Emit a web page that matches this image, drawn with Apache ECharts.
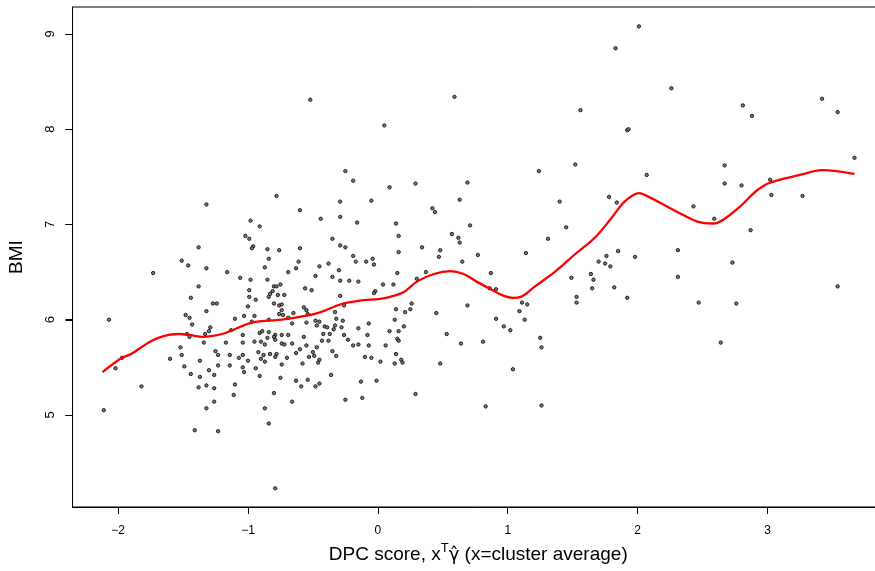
<!DOCTYPE html>
<html>
<head>
<meta charset="utf-8">
<title>BMI vs DPC score</title>
<script src="https://cdn.jsdelivr.net/npm/echarts@6/dist/echarts.min.js"></script>
<style>
  html, body { margin: 0; padding: 0; background: #ffffff; }
  #chart { width: 875px; height: 571px; }
</style>
</head>
<body>
<div id="chart"></div>
<script>
// Per-subject observations: [DPC score (cluster average), BMI]
const subjects = [
  [-1.38,6.76],[-1.51,6.62],[-1.46,6.57],[-1.32,6.54],[-1.73,6.49],[-1.38,6.35],[-1.44,6.23],[-1.27,6.17],
  [-1.24,6.17],[-1.32,6.09],[-2.07,6.00],[-1.48,6.05],[-1.45,6.02],[-1.43,5.95],[-1.29,5.92],[-1.30,5.88],
  [-1.47,5.85],[-1.45,5.82],[-1.33,5.85],[-1.34,5.76],[-1.52,5.71],[-1.51,5.63],[-1.60,5.59],[-1.25,5.67],
  [-1.23,5.63],[-1.97,5.60],[-1.37,5.57],[-1.49,5.51],[-1.23,5.52],[-2.02,5.49],[-1.30,5.47],[-1.44,5.43],
  [-1.37,5.40],[-1.26,5.42],[-1.82,5.30],[-1.38,5.29],[-1.32,5.31],[-1.26,5.28],[-1.26,5.14],[-2.11,5.05],
  [-1.32,5.07],[-1.41,4.84],[-1.23,4.83],[-1.32,7.21],[-0.52,8.31],
  [-0.78,7.30],[-0.60,7.15],[-0.98,7.04],[-0.91,6.98],[-1.02,6.88],[-0.99,6.85],[-0.96,6.77],[-0.97,6.75],
  [-0.85,6.74],[-0.76,6.73],[-0.60,6.75],[-0.84,6.64],[-0.61,6.61],[-0.87,6.55],[-0.63,6.54],[-1.16,6.50],
  [-0.69,6.50],[-1.06,6.44],[-0.98,6.42],[-0.85,6.42],[-0.80,6.35],[-0.78,6.35],[-0.75,6.37],[-0.56,6.33],
  [-0.99,6.31],[-0.81,6.30],[-0.83,6.27],[-0.84,6.24],[-0.77,6.26],[-0.72,6.26],[-0.99,6.24],[-0.94,6.21],
  [-0.80,6.17],[-0.76,6.15],[-0.74,6.16],[-1.00,6.14],[-0.74,6.10],[-0.57,6.13],[-0.65,6.07],[-0.73,6.05],
  [-0.69,6.02],[-1.10,6.01],[-1.03,6.04],[-0.95,6.04],[-0.84,6.00],[-0.76,6.06],[-0.66,5.96],[-0.97,5.98],
  [-1.13,5.89],[-0.91,5.86],[-0.89,5.88],[-0.84,5.87],[-1.04,5.84],[-0.79,5.84],[-0.74,5.84],[-0.69,5.84],
  [-0.57,5.82],[-0.80,5.82],[-0.85,5.81],[-0.79,5.79],[-1.17,5.76],[-1.04,5.76],[-0.95,5.77],[-0.90,5.77],
  [-0.87,5.74],[-0.74,5.75],[-0.72,5.74],[-0.66,5.75],[-0.60,5.69],[-0.92,5.66],[-0.88,5.63],[-0.83,5.64],
  [-0.78,5.64],[-0.63,5.65],[-1.14,5.63],[-1.04,5.63],[-1.07,5.60],[-0.90,5.59],[-0.79,5.61],[-0.70,5.60],
  [-1.00,5.57],[-0.87,5.56],[-1.14,5.52],[-1.04,5.50],[-0.74,5.53],[-0.58,5.54],[-0.94,5.49],[-1.03,5.45],
  [-0.91,5.41],[-0.75,5.39],[-0.63,5.36],[-1.10,5.32],[-0.59,5.30],[-0.80,5.23],[-1.11,5.21],[-0.66,5.14],
  [-0.87,5.07],[-0.84,4.91],[-0.79,4.23],
  [0.05,8.04],[-0.25,7.56],[-0.19,7.46],[0.09,7.39],[-0.05,7.25],[-0.29,7.24],[-0.29,7.08],[-0.44,7.06],
  [-0.16,7.02],[0.14,7.01],[-0.35,6.85],[0.16,6.88],[-0.29,6.78],[-0.25,6.76],[0.16,6.71],[-0.19,6.67],
  [-0.04,6.64],[-0.17,6.61],[-0.09,6.61],[-0.03,6.58],[-0.38,6.59],[-0.45,6.56],[-0.30,6.52],[0.15,6.49],
  [-0.48,6.46],[-0.35,6.45],[-0.29,6.41],[-0.22,6.41],[-0.15,6.40],[0.04,6.37],[0.12,6.37],[-0.51,6.31],
  [-0.02,6.30],[-0.03,6.28],[-0.29,6.25],[-0.55,6.10],[-0.54,6.06],[-0.26,6.15],[0.14,6.11],[0.21,6.08],
  [-0.33,6.08],[0.13,6.00],[-0.32,6.01],[-0.55,5.97],[-0.48,5.99],[-0.45,5.98],[-0.47,5.94],[-0.27,5.99],
  [-0.07,5.96],[-0.33,5.94],[-0.41,5.93],[-0.39,5.92],[-0.28,5.92],[-0.15,5.91],[0.20,5.93],[-0.34,5.90],
  [0.09,5.88],[0.16,5.88],[-0.42,5.85],[-0.37,5.85],[-0.26,5.84],[-0.08,5.84],[-0.23,5.79],[-0.43,5.78],
  [-0.38,5.78],[0.15,5.80],[0.16,5.78],[-0.55,5.73],[-0.19,5.73],[-0.15,5.74],[-0.07,5.73],[0.06,5.73],
  [-0.47,5.71],[-0.35,5.67],[-0.50,5.66],[-0.53,5.61],[-0.49,5.62],[-0.32,5.62],[-0.10,5.61],[-0.05,5.60],
  [0.14,5.64],[-0.45,5.58],[-0.46,5.55],[0.02,5.56],[0.13,5.54],[0.18,5.58],[0.19,5.55],[-0.36,5.42],
  [-0.54,5.37],[-0.48,5.30],[-0.45,5.33],[-0.13,5.35],[-0.01,5.36],[-0.25,5.16],[-0.12,5.18],
  [0.59,8.34],[0.29,7.43],[0.69,7.44],[0.63,7.26],[0.42,7.17],[0.44,7.13],[0.71,6.99],[0.57,6.90],
  [0.62,6.86],[0.63,6.81],[0.34,6.76],[0.48,6.73],[0.47,6.66],[0.77,6.68],[0.65,6.61],[0.37,6.50],
  [0.30,6.43],[0.87,6.49],[0.86,6.33],[0.91,6.32],[0.26,6.17],[0.25,6.11],[0.45,6.07],[0.69,6.15],
  [1.09,6.09],[0.91,6.01],[0.97,5.93],[1.02,5.89],[0.53,5.85],[0.64,5.75],[0.81,5.77],[0.48,5.54],
  [1.04,5.48],[0.29,5.22],[0.83,5.09],
  [1.56,8.20],[1.52,7.63],[1.24,7.56],[1.78,7.29],[1.84,7.23],[1.40,7.24],[1.45,6.97],[1.31,6.85],
  [1.14,6.70],[1.85,6.72],[1.98,6.66],[1.76,6.67],[1.70,6.61],[1.75,6.59],[1.79,6.56],[1.49,6.44],
  [1.64,6.48],[1.66,6.42],[1.65,6.33],[1.82,6.34],[1.92,6.23],[1.53,6.24],[1.53,6.18],[1.11,6.18],
  [1.15,6.16],[1.13,6.00],[1.25,5.81],[1.26,5.71],[1.26,5.10],
  [2.01,9.08],[1.83,8.85],[2.26,8.43],[2.81,8.25],[2.88,8.14],[3.42,8.32],[3.54,8.18],[1.92,7.99],
  [1.93,8.00],[3.67,7.70],[2.07,7.52],[2.67,7.62],[2.67,7.43],[2.80,7.41],[3.02,7.47],
  [3.03,7.31],[3.27,7.30],[2.43,7.19],[2.59,7.06],[2.87,6.94],[2.31,6.73],[2.73,6.60],[2.31,6.45],
  [3.54,6.35],[2.47,6.18],[2.76,6.17],[2.64,5.76]
];

// Fitted smooth trend of BMI on DPC score
const smoothScore = [-2.12,-1.97,-1.90,-1.74,-1.61,-1.53,-1.45,-1.35,-1.27,-1.20,-1.12,-0.97,-0.74,-0.56,
  -0.44,-0.29,-0.14,0.02,0.12,0.21,0.30,0.43,0.56,0.66,0.76,0.87,0.97,1.04,1.10,1.21,1.37,1.52,1.67,1.80,
  1.90,2.01,2.07,2.28,2.46,2.58,2.66,2.79,2.88,2.93,3.02,3.25,3.42,3.53,3.67];
const smoothBmi = [5.45,5.60,5.64,5.78,5.84,5.85,5.84,5.82,5.83,5.85,5.89,5.97,6.00,6.04,
  6.08,6.16,6.20,6.22,6.25,6.30,6.40,6.48,6.51,6.48,6.40,6.32,6.25,6.23,6.24,6.35,6.51,6.69,6.86,7.07,
  7.24,7.33,7.30,7.15,7.03,7.01,7.05,7.19,7.31,7.37,7.44,7.52,7.57,7.56,7.53];

const xTicks = [-2, -1, 0, 1, 2, 3];
const yTicks = [5, 6, 7, 8, 9];

// Plot region limits (data range widened by 4% on each side)
const xRange = [-2.351, 3.897];
const yRange = [4.034, 9.283];

const chart = echarts.init(document.getElementById('chart'), null, { renderer: 'canvas' });

const FONT = '"Liberation Sans", Arial, Helvetica, sans-serif';
const MATH_FONT = '"DejaVu Sans", "Liberation Sans", sans-serif';
const TICK_LEN = 7;

chart.setOption({
  animation: false,
  backgroundColor: '#ffffff',
  grid: {
    left: 72.5, top: 7, right: -9, bottom: 64,
    show: true, borderColor: '#000000', borderWidth: 1,
    backgroundColor: 'transparent',
    containLabel: false, outerBoundsMode: 'none'
  },
  xAxis: {
    type: 'value', min: xRange[0], max: xRange[1],
    axisLine: { show: true, onZero: false, lineStyle: { color: '#000000', width: 1 } },
    splitLine: { show: false },
    axisTick: { show: true, inside: false, length: TICK_LEN, customValues: xTicks,
      lineStyle: { color: '#000000', width: 1 } },
    axisLabel: { customValues: xTicks, margin: 18, color: '#000000', fontSize: 12, fontFamily: FONT,
      formatter: v => String(v).replace('-', '\u2212') },
    name: '{t|DPC score, x}{sup|T}{g|\u03b3\u0302}{t| (x=cluster average)}',
    nameLocation: 'middle', nameGap: 33,
    nameTextStyle: {
      fontFamily: FONT, color: '#000000',
      rich: {
        t: { fontSize: 19, fontFamily: FONT, color: '#000000', verticalAlign: 'bottom', lineHeight: 22 },
        g: { fontSize: 18, fontFamily: MATH_FONT, color: '#000000', verticalAlign: 'bottom', lineHeight: 22 },
        sup: { fontSize: 13, fontFamily: FONT, color: '#000000', verticalAlign: 'top', lineHeight: 22, padding: [0, 0, 8, 0] }
      }
    }
  },
  yAxis: {
    type: 'value', min: yRange[0], max: yRange[1],
    position: 'left',
    axisLine: { show: true, onZero: false, lineStyle: { color: '#000000', width: 1 } },
    splitLine: { show: false },
    axisTick: { show: true, inside: false, length: TICK_LEN, customValues: yTicks,
      lineStyle: { color: '#000000', width: 1 } },
    axisLabel: { customValues: yTicks, rotate: 90, margin: 16, color: '#000000', fontSize: 13, fontFamily: FONT },
    name: 'BMI', nameLocation: 'middle', nameGap: 46, nameRotate: 90,
    nameTextStyle: { fontSize: 19, fontFamily: FONT, color: '#000000' }
  },
  series: [
    {
      type: 'scatter',
      data: subjects,
      symbol: 'circle',
      symbolSize: 3.4,
      silent: true,
      itemStyle: { color: '#7a7a7a', borderColor: '#000000', borderWidth: 0.8, opacity: 1 },
      z: 2
    },
    {
      type: 'line',
      data: smoothScore.map((s, i) => [s, smoothBmi[i]]),
      showSymbol: false,
      smooth: 0.35,
      silent: true,
      lineStyle: { color: '#ff0000', width: 2.3 },
      z: 3
    }
  ]
});

// Outward BMI tick marks, positioned through the axis scales
const axisPx = chart.convertToPixel({ xAxisIndex: 0 }, xRange[0]);
chart.setOption({
  graphic: {
    elements: yTicks.map(v => {
      const py = Math.round(chart.convertToPixel({ yAxisIndex: 0 }, v)) + 0.5;
      return {
        type: 'line',
        silent: true,
        z: 100,
        shape: { x1: axisPx - TICK_LEN, y1: py, x2: axisPx, y2: py },
        style: { stroke: '#000000', lineWidth: 1 }
      };
    })
  }
});
</script>
</body>
</html>
